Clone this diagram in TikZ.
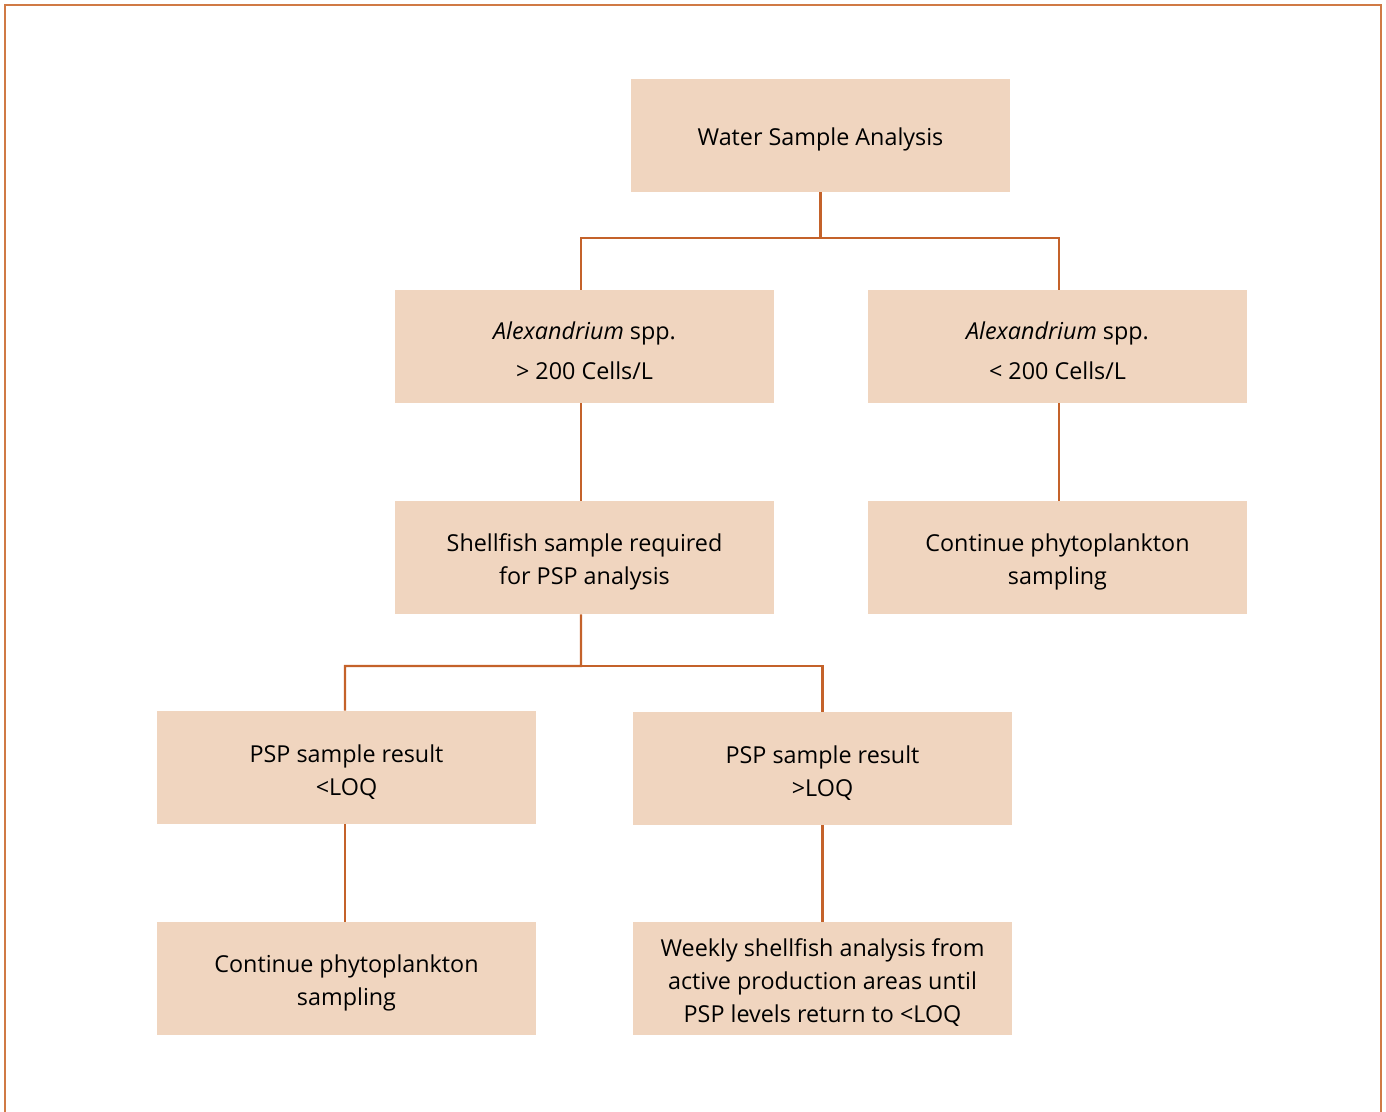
\documentclass[tikz,border=0pt]{standalone}
\usepackage{fontspec}
\setmainfont{Open Sans}
\definecolor{boxfill}{HTML}{F0D5BF}
\definecolor{linkcol}{HTML}{C4622A}
\definecolor{framecol}{HTML}{D07A45}
\newcommand{\lift}{\rule{0pt}{19.5pt}}
\tikzset{
	stepbox/.style={fill=boxfill,minimum width=284.25pt,minimum height=84.75pt,inner sep=0pt,align=center,font=\fontsize{17.5}{24.75}\selectfont},
	link/.style={draw=linkcol,line width=1.6pt},
	frame/.style={draw=framecol,line width=1.5pt}
}
\begin{document}
\begin{tikzpicture}
		[x=0.75pt,y=-0.75pt]
		\useasboundingbox (0,0) rectangle (1386,1112);
		\draw[frame] (5,1112) -- (5,5) -- (1381,5) -- (1381,1112);
		\node[stepbox] (water) at (820.5,135.5) {\lift Water Sample Analysis};
		\node[stepbox] (alexhigh) at (584.5,346.5) {\lift\textit{Alexandrium} spp.\\[5pt]> 200 Cells/L};
		\node[stepbox] (alexlow) at (1057.5,346.5) {\lift\textit{Alexandrium} spp.\\[5pt]< 200 Cells/L};
		\node[stepbox] (shellfish) at (584.5,557.5) {\lift Shellfish sample required\\for PSP analysis};
		\node[stepbox] (contright) at (1057.5,557.5) {\lift Continue phytoplankton\\sampling};
		\node[stepbox] (loqlow) at (346.5,767.5) {\lift PSP sample result\\<LOQ};
		\node[stepbox] (loqhigh) at (822.5,768.5) {\lift PSP sample result\\>LOQ};
		\node[stepbox] (contleft) at (346.5,978.5) {\lift Continue phytoplankton\\sampling};
		\node[stepbox] (weekly) at (822.5,978.5) {\lift Weekly shellfish analysis from\\active production areas until\\PSP levels return to <LOQ};
		\coordinate (splittop) at (820.5,238);
		\coordinate (splitmid) at (581,666);
		\draw[link] (water.south) -- (splittop) -| ([xshift=-2.6pt]alexhigh.north);
		\draw[link] (splittop) -| ([xshift=1.1pt]alexlow.north);
		\draw[link] ([xshift=-2.6pt]alexhigh.south) -- ([xshift=-2.6pt]shellfish.north);
		\draw[link] ([xshift=1.1pt]alexlow.south) -- ([xshift=1.1pt]contright.north);
		\draw[link] ([xshift=-2.6pt]shellfish.south) -- (splitmid) -| ([xshift=-1.1pt]loqlow.north);
		\draw[link] (splitmid) -| (loqhigh.north);
		\draw[link] ([xshift=-1.1pt]loqlow.south) -- ([xshift=-1.1pt]contleft.north);
		\draw[link] (loqhigh.south) -- (weekly.north);
	\end{tikzpicture}
\end{document}
